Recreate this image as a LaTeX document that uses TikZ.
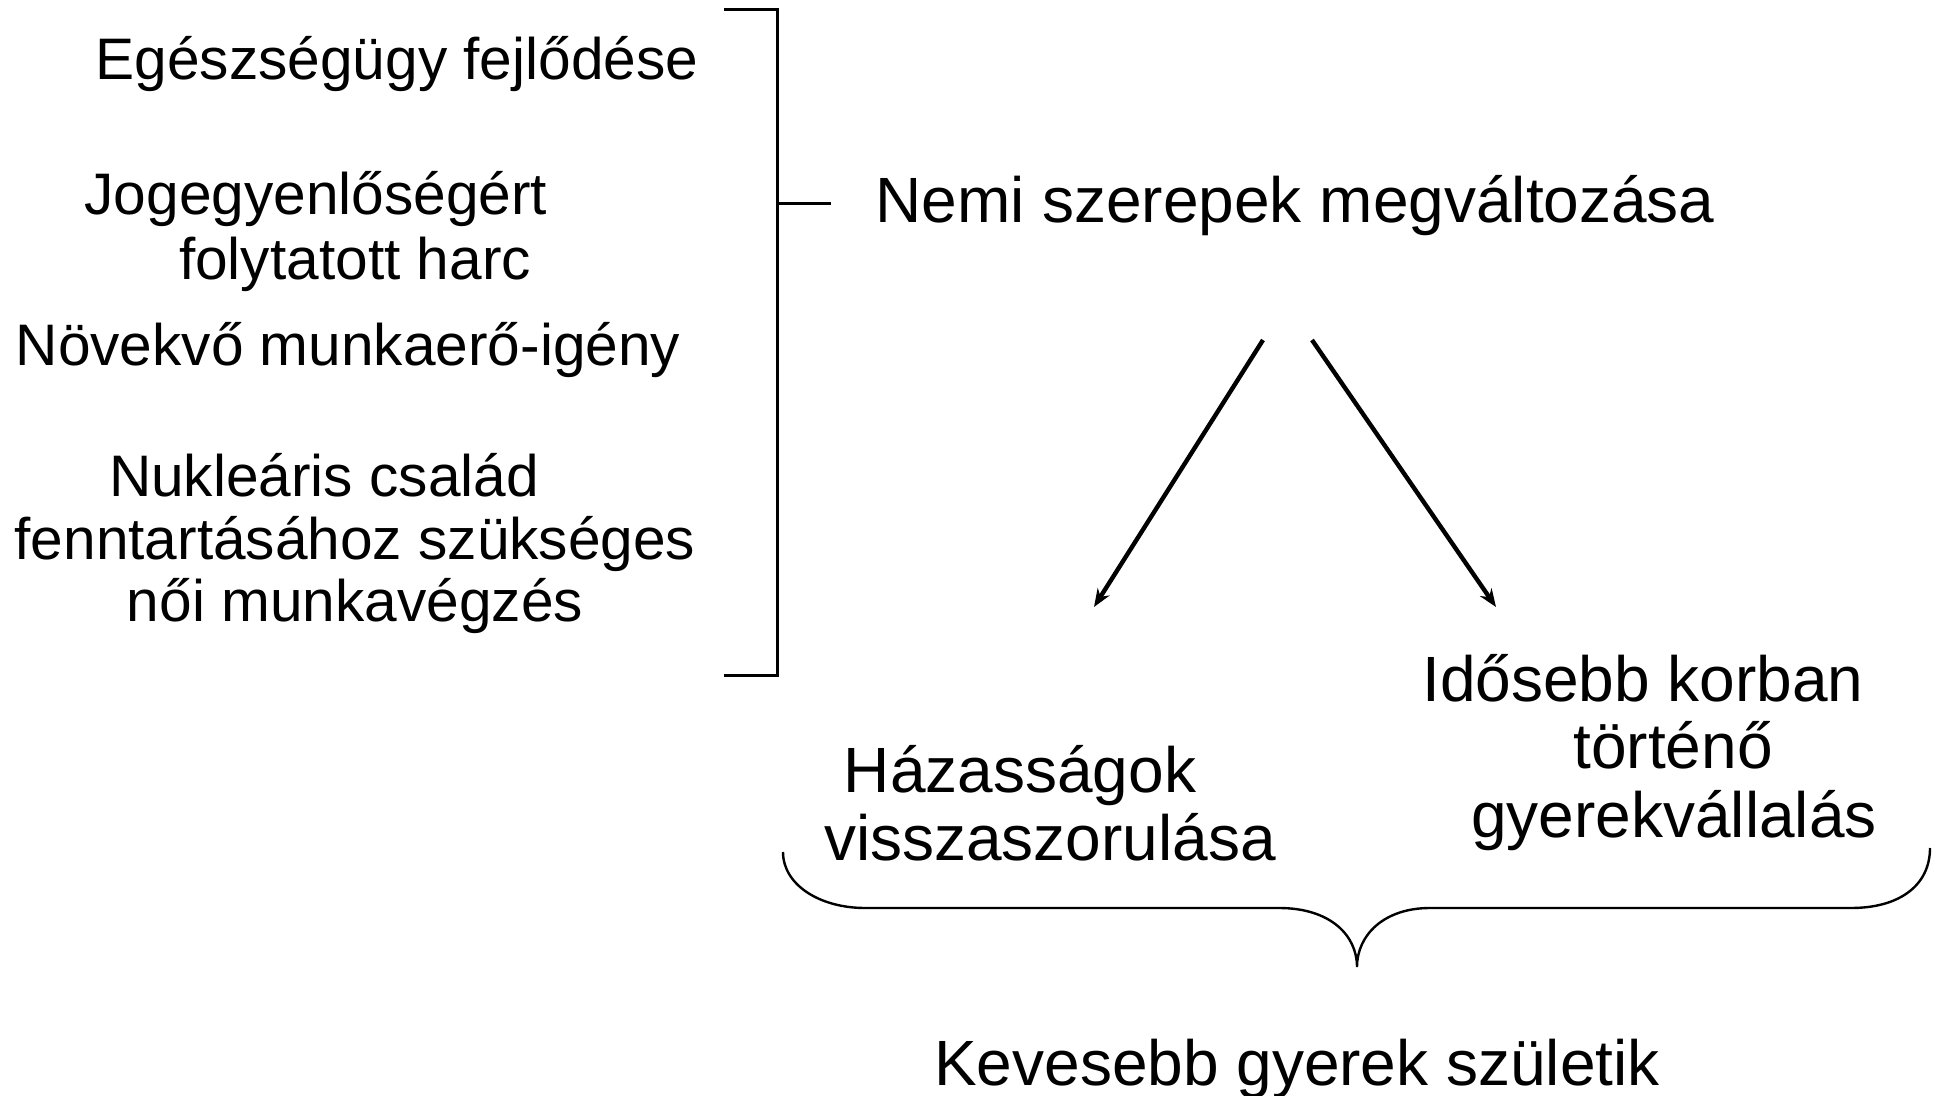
\documentclass[tikz,border=0pt]{standalone}
\usepackage{fontspec}
\setmainfont{Liberation Sans}
\usetikzlibrary{arrows.meta}
\begin{document}
\begin{tikzpicture}[x=0.5pt,y=-0.5pt,
  lefttxt/.style={inner sep=0pt,anchor=base,font=\fontsize{29.3pt}{31pt}\selectfont},
  bigtxt/.style={inner sep=0pt,anchor=base,font=\fontsize{32pt}{34pt}\selectfont},
  brk/.style={line width=1.5pt},
  arr/.style={line width=2.2pt,-{Stealth[length=9pt,width=7pt]}},
  brc/.style={line width=1.2pt}]
\useasboundingbox (0,0) rectangle (1940,1096);
% left texts
\node[lefttxt] (egesz) at (397,80) {Egészségügy fejlődése};
\node[lefttxt] (jog1) at (316,215) {Jogegyenlőségért};
\node[lefttxt] (jog2) at (355,280) {folytatott harc};
\node[lefttxt] (novek) at (348,366) {Növekvő munkaerő-igény};
\node[lefttxt] (nuk1) at (324,497) {Nukleáris család};
\node[lefttxt] (nuk2) at (355,560) {fenntartásához szükséges};
\node[lefttxt] (nuk3) at (355,622) {női munkavégzés};
% bracket
\coordinate (btop) at (724,10);
\coordinate (btopr) at (777,10);
\coordinate (bbotr) at (777,676);
\coordinate (bbot) at (724,676);
\coordinate (bmid) at (777,204);
\coordinate (btick) at (831,204);
\draw[brk] (btop) -- (btopr) -- (bbotr) -- (bbot);
\draw[brk] (bmid) -- (btick);
% main node
\node[bigtxt] (nemi) at (1295,223) {Nemi szerepek megváltozása};
% arrows
\coordinate (a1s) at (1263,340);
\coordinate (a1e) at (1094,607);
\coordinate (a2s) at (1312,340);
\coordinate (a2e) at (1496,607);
\draw[arr] (a1s) -- (a1e);
\draw[arr] (a2s) -- (a2e);
% bottom texts
\node[bigtxt] (haz1) at (1020,792) {Házasságok};
\node[bigtxt] (haz2) at (1050,860) {visszaszorulása};
\node[bigtxt] (ido1) at (1643,701) {Idősebb korban};
\node[bigtxt] (ido2) at (1673,768) {történő};
\node[bigtxt] (ido3) at (1674,837) {gyerekvállalás};
% brace
\coordinate (bl) at (783,852);
\coordinate (tip) at (1357,967);
\coordinate (br) at (1930,848);
\draw[brc] (bl) .. controls (783,885) and (820,908) .. (865,908) -- (1279,908)
  .. controls (1330,908) and (1357,935) .. (tip)
  .. controls (1357,935) and (1384,908) .. (1430,908) -- (1851,908)
  .. controls (1900,908) and (1930,885) .. (br);
\node[bigtxt] (keves) at (1297,1085) {Kevesebb gyerek születik};
\end{tikzpicture}
\end{document}
